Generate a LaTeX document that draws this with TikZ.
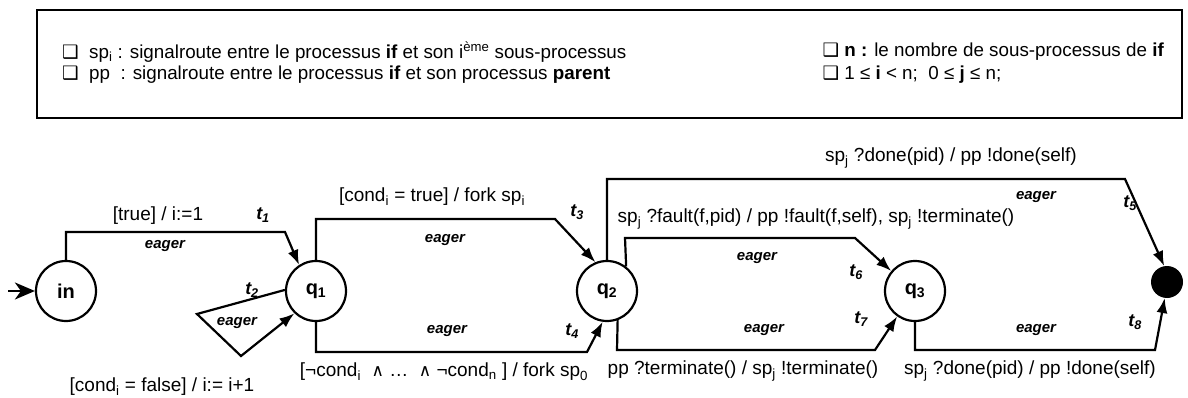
\documentclass[tikz,border=0pt]{standalone}
\usepackage{fontspec}
\setmainfont{Liberation Sans}
\newfontfamily\dejavu{DejaVu Sans}
\usetikzlibrary{arrows.meta}
\newcommand{\cb}{{\dejavu\fontsize{18.5}{20}\selectfont ❑}}
\newcommand{\sub}[1]{\textsubscript{#1}}
\newcommand{\wedgesym}{{\dejavu\fontsize{17}{19}\selectfont ∧}}
\begin{document}
\begin{tikzpicture}[x=1pt,y=-1pt,
  state/.style={circle, draw, line width=2.2pt, minimum size=60pt, inner sep=0pt, font=\bfseries\fontsize{20}{22}\selectfont},
  final/.style={circle, fill=black, minimum size=32pt, inner sep=0pt},
  tr/.style={line width=2.2pt, -{Latex[length=15pt,width=11pt]}},
  lbl/.style={font=\fontsize{19}{21}\selectfont, inner sep=0pt},
  eg/.style={font=\bfseries\itshape\fontsize{15}{17}\selectfont, inner sep=0pt},
  tl/.style={font=\bfseries\itshape\fontsize{18}{20}\selectfont, inner sep=0pt},
  boxtxt/.style={font=\fontsize{18.8}{21}\selectfont, inner sep=0pt, anchor=west}
]
\useasboundingbox (0,0) rectangle (1188,398);
% legend box
\node[draw, line width=1.6pt, minimum width=1145pt, minimum height=108pt, inner sep=0pt] (legend) at (609.5,64) {};
\node[boxtxt] (l1) at (62,52) {\cb\ \ sp\sub{i} : signalroute entre le processus \textbf{if} et son i\textsuperscript{ème} sous-processus};
\node[boxtxt] (l2) at (62,75) {\cb\ \ pp\ \ : signalroute entre le processus \textbf{if} et son processus \textbf{parent}};
\node[boxtxt, anchor=east] (l3) at (1164,52) {\cb\ \textbf{n :} le nombre de sous-processus de \textbf{if}};
\node[boxtxt] (l4) at (l3.west|-0,75) {\cb\ 1 ≤ \textbf{i} < n;\ \ 0 ≤ \textbf{j} ≤ n;};

% states
\node[state] (in) at (66,291) {in};
\node[state] (q1) at (316,291) {q\sub{1}};
\node[state] (q2) at (607,291) {q\sub{2}};
\node[state] (q3) at (915,291) {q\sub{3}};
\node[final] (fin) at (1167,282) {};
\coordinate (start) at (8,291);

% initial arrow
\draw[line width=2.2pt, -{Stealth[length=20pt,width=17pt,inset=6pt]}] (start) -- (in.west);

% t1
\draw[tr] (in.north) -- (66,232) -- (285,232) -- (q1.123);
% t2
\draw[tr] (q1.178) -- (197,314) -- (241,356) -- (q1.226);
% t3
\draw[tr] (q1.north) -- (316,219) -- (555,219) -- (q2.112);
% t4
\draw[tr] (q1.south) -- (316,352) -- (587,352) -- (q2.262);
% t5
\draw[tr] (q2.north) -- (607,179) -- (1125,179) -- (fin.100);
% t6
\draw[tr] (q2.52) -- (625,238) -- (855,238) -- (q3.140);
% t7
\draw[tr] (q2.290) -- (617,350) -- (875,350) -- (q3.235);
% t8
\draw[tr] (q3.south) -- (915,350) -- (1155,350) -- (fin.262);

% labels
\node[lbl] (a1) at (158,216) {[true] / i:=1};
\node[eg] (e1) at (165,246) {eager};
\node[tl] (n1) at (263,215) {t\sub{1}};
\node[tl] (n2) at (252,290) {t\sub{2}};
\node[eg] (e2) at (237,323) {eager};
\node[lbl] (a2) at (162,387) {[cond\sub{i} = false] / i:= i+1};
\node[lbl] (a3) at (432,197) {[cond\sub{i} = true] / fork sp\sub{i}};
\node[eg] (e3) at (445,240) {eager};
\node[tl] (n3) at (577,212) {t\sub{3}};
\node[eg] (e4) at (447,331) {eager};
\node[tl] (n4) at (572,331) {t\sub{4}};
\node[lbl] (a4) at (444,372) {[¬cond\sub{i}\ \ \wedgesym\ …\ \ \wedgesym\ ¬cond\sub{n} ] / fork sp\sub{0}};
\node[lbl] (a5) at (951,158) {sp\sub{j} ?done(pid) / pp !done(self)};
\node[eg] (e5) at (1036,197) {eager};
\node[tl] (n5) at (1130,203) {t\sub{5}};
\node[lbl] (a6) at (816,219) {sp\sub{j} ?fault(f,pid) / pp !fault(f,self), sp\sub{j} !terminate()};
\node[eg] (e6) at (757,258) {eager};
\node[tl] (n6) at (856,272) {t\sub{6}};
\node[eg] (e7) at (764,330) {eager};
\node[tl] (n7) at (861,319) {t\sub{7}};
\node[eg] (e8) at (1036,330) {eager};
\node[tl] (n8) at (1135,322) {t\sub{8}};
\node[lbl] (a7) at (743,371) {pp ?terminate() / sp\sub{j} !terminate()};
\node[lbl] (a8) at (1030,371) {sp\sub{j} ?done(pid) / pp !done(self)};
\end{tikzpicture}
\end{document}
